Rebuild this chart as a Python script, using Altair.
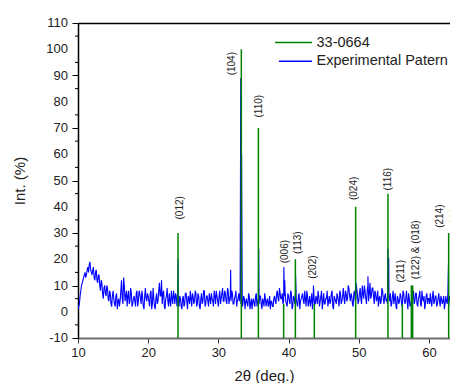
import altair as alt
import pandas as pd

FONT = "Liberation Sans"

# ---- reference card 33-0664 (stick pattern) ----
ref_two_theta = [24.25, 33.27, 35.70, 39.30, 40.97, 43.67, 49.56, 54.16, 56.21, 57.49, 57.68, 62.81, 63.90]
ref_intensity = [30, 100, 70, 3, 20, 3, 40, 45, 3, 10, 10, 30, 30]

# ---- Miller-index annotations ----
label_text = ["(012)", "(104)", "(110)", "(006)", "(113)", "(202)", "(024)", "(116)",
              "(211)", "(122) & (018)", "(214)", "(300)"]
label_two_theta = [24.47, 32.0, 35.78, 39.44, 41.3, 43.53, 49.27, 54.16, 56.07, 58.2, 61.52, 63.73]
label_intensity = [39.6, 94.5, 78.3, 22.9, 26.3, 17.0, 47.0, 50.5, 15.4, 23.6, 36.4, 36.4]

# ---- axis tick values ----
y_major_ticks = list(range(-10, 111, 10))
y_minor_ticks = list(range(-5, 106, 10))
x_major_ticks = [10, 20, 30, 40, 50, 60]

# ---- legend entries ----
series_names = ["33-0664", "Experimental Patern"]
series_colors = ["#008000", "#0000ff"]

# ---- experimental pattern: background read every 0.2 deg from 10.0 deg ----
exp_start = 10.0
exp_step = 0.2
exp_background = [
    1, 3, 8, 11, 13,   15, 14, 17, 18, 16,   14, 17, 12, 16, 11,   14, 8, 11, 5, 10,
    6, 9, 4, 7, 2,     8, 3, 6, 1, 5,        4, 12, 3, 10, 6,      2, 8, 4, 7, 3,
    6, 2, 8, 4, 7,     3, 6, 1, 9, 4,        6, 2, 8, 3, 5,        1, 7, 4, 11, 6,
    3, 8, 1, 6, 4,     7, 2, 5, 8, 3,        6, 4, 2, 5, 1,        6, 3, 7, 1, 5,
    8, 2, 6, 4, 7,     3, 6, 1, 7, 4,        8, 3, 6, 2, 5,        7, 4, 8, 3, 6,
    2, 8, 5, 9, 4,     7, 3, 8, 5, 4,        7, 3, 6, 2, 5,        4, 3, 2, 6, 1,
    5, 2, 6, 3, 1,     5, 2, 7, 4, 3,        6, 1, 4, 7, 2,        5, 3, 1, 4, 2,
    6, 3, 8, 4, 7,     5, 3, 6, 4, 2,        6, 3, 7, 2, 5,        8, 3, 6, 1, 5,
    7, 3, 5, 8, 2,     6, 4, 1, 7, 3,        5, 8, 2, 6, 1,        7, 3, 5, 2, 6,
    4, 8, 1, 5, 3,     6, 2, 7, 4, 9,        3, 7, 5, 9, 4,        6, 2, 8, 5, 7,
    4, 9, 3, 7, 10,    5, 8, 4, 11, 6,       9, 3, 7, 5, 2,        6, 4, 8, 3, 7,
    5, 8, 4, 2, 6,     3, 7, 1, 5, 4,        6, 2, 7, 3, 8,        1, 5, 3, 6, 8,
    4, 7, 2, 6, 3,     8, 4, 1, 6, 3,        5, 7, 2, 8, 4,        6, 3, 7, 2, 5,
    4, 1, 6, 3, 2,     6, 4, 2, 5, 8,        3, 6, 2, 7, 4,        5,
]
# ---- experimental pattern: background read every 0.2 deg from 10.1 deg ----
exp_start_mid = 10.1
exp_background_mid = [
    2, 6, 10, 12, 14,  13, 16, 15, 19, 15,   16, 13, 15, 12, 14,   10, 12, 7, 9, 7,
    10, 5, 8, 3, 6,    5, 2, 7, 4, 2,        8, 5, 13, 4, 8,       6, 3, 9, 2, 5,
    4, 7, 2, 8, 5,     8, 2, 6, 5, 7,        4, 7, 1, 9, 2,        5, 3, 8, 6, 12,
    7, 2, 5, 9, 2,     4, 8, 3, 6, 7,        2, 3, 6, 2, 5,        2, 7, 4, 6, 3,
    5, 7, 3, 8, 2,     7, 2, 5, 3, 8,        2, 6, 4, 7, 3,        5, 2, 6, 8, 4,
    6, 3, 7, 4, 8,     4, 9, 3, 6, 8,        3, 5, 8, 4, 7,        7, 5, 3, 5, 4,
    3, 7, 1, 5, 4,     3, 6, 2, 5, 6,        3, 5, 2, 5, 4,        2, 6, 4, 2, 5,
    4, 7, 5, 9, 5,     7, 4, 8, 3, 7,        4, 8, 1, 6, 3,        5, 2, 7, 4, 6,
    4, 8, 2, 6, 4,     2, 7, 5, 3, 6,        3, 6, 4, 8, 4,        3, 5, 8, 4, 3,
    7, 2, 6, 4, 7,     4, 8, 3, 6, 5,        8, 4, 10, 6, 7,       3, 7, 4, 9, 3,
    7, 5, 10, 5, 8,    3, 10, 7, 5, 9,       6, 8, 4, 8, 5,        3, 9, 5, 6, 4,
    3, 6, 7, 3, 8,     5, 2, 6, 3, 7,        3, 8, 4, 5, 4,        7, 2, 4, 5, 3,
    7, 3, 5, 8, 2,     5, 6, 3, 7, 5,        3, 4, 6, 3, 6,        2, 5, 4, 6, 3,
    6, 3, 4, 7, 5,     3, 7, 3, 6, 4,        5, 4, 6, 3, 6,
]
# ---- experimental pattern: diffraction peaks ----
peak_two_theta = [24.25, 31.75, 33.19, 33.31, 35.75, 39.33, 39.45, 41.0, 43.55, 49.61, 51.31,
                  54.15, 54.27, 57.63, 62.78]
peak_intensity = [20, 16, 89, 60, 24, 17, 12, 14, 10, 11, 13.5, 24, 20.5, 10, 18]

# ---- tables ----
exp_x = ([round(exp_start + exp_step * i, 2) for i in range(len(exp_background))]
         + [round(exp_start_mid + exp_step * i, 2) for i in range(len(exp_background_mid))]
         + peak_two_theta)
exp_y = list(exp_background) + list(exp_background_mid) + peak_intensity
exp_df = pd.DataFrame({"two_theta": exp_x, "intensity": exp_y})
exp_df = exp_df.sort_values("two_theta").reset_index(drop=True)

ref_df = pd.DataFrame({"two_theta": ref_two_theta, "intensity": ref_intensity})
lab_df = pd.DataFrame({"two_theta": label_two_theta, "intensity": label_intensity, "text": label_text})
minor_df = pd.DataFrame({"intensity": y_minor_ticks})
major_df = pd.DataFrame({"intensity": y_major_ticks, "text": [str(v) for v in y_major_ticks]})

xscale = alt.Scale(domain=[10, 63], nice=False, zero=False)
yscale = alt.Scale(domain=[-10, 110], nice=False, zero=False)

x_axis = alt.Axis(
    values=x_major_ticks, title="2θ (deg.)", grid=False,
    tickSize=5, tickColor="#333", domainColor="#6e6e6e", domainWidth=2,
    labelFontSize=13, labelColor="#222", labelPadding=3, labelFlush=False,
    titleFontSize=15, titleFontWeight="normal", titleColor="#222", titlePadding=9,
)
y_axis = alt.Axis(
    values=y_major_ticks, title="Int. (%)", grid=False, labels=False,
    tickSize=6, tickColor="#000", domainColor="#000", domainWidth=1.5,
    titleFontSize=15, titleFontWeight="normal", titleColor="#222", titlePadding=44,
)
top_axis = alt.Axis(orient="top", labels=False, ticks=False, title=None, grid=False,
                    domainColor="#000", domainWidth=1.5)

exp_line = alt.Chart(exp_df).mark_line(strokeWidth=1.1, clip=True, color=series_colors[1]).encode(
    x=alt.X("two_theta:Q", scale=xscale, axis=x_axis),
    y=alt.Y("intensity:Q", scale=yscale, axis=y_axis),
)

sticks = alt.Chart(ref_df).mark_rule(strokeWidth=1.5, clip=True, color=series_colors[0]).encode(
    x=alt.X("two_theta:Q", scale=xscale, axis=None),
    y=alt.Y("intensity:Q", scale=yscale),
    y2=alt.datum(-10),
)

labels = alt.Chart(lab_df).mark_text(angle=270, fontSize=10, font=FONT, color="#222",
                                     align="center", baseline="middle", clip=True).encode(
    x=alt.X("two_theta:Q", scale=xscale, axis=top_axis),
    y=alt.Y("intensity:Q", scale=yscale),
    text="text:N",
)

# y tick labels and minor ticks, placed through the y scale just left of the plot
y_labels = alt.Chart(major_df).mark_text(fontSize=13, font=FONT, color="#222",
                                         align="right", baseline="middle").encode(
    y=alt.Y("intensity:Q", scale=yscale),
    x=alt.value(-10),
    text="text:N",
)
minor = alt.Chart(minor_df).mark_rule(color="#000", strokeWidth=1).encode(
    y=alt.Y("intensity:Q", scale=yscale),
    x=alt.value(-3), x2=alt.value(0),
)

# legend (inside the plot, upper right)
leg_df = pd.DataFrame({"series": series_names})
leg_line_ref = alt.Chart(leg_df.iloc[[0]]).mark_rule(color=series_colors[0], strokeWidth=1.5).encode(
    x=alt.value(197), x2=alt.value(234), y=alt.value(19.6))
leg_line_exp = alt.Chart(leg_df.iloc[[1]]).mark_rule(color=series_colors[1], strokeWidth=1.5).encode(
    x=alt.value(201), x2=alt.value(234), y=alt.value(38.3))
leg_text_ref = alt.Chart(leg_df.iloc[[0]]).mark_text(fontSize=14.5, font=FONT, color="#222",
                                                     align="left", baseline="middle").encode(
    x=alt.value(238.5), y=alt.value(19.6), text="series:N")
leg_text_exp = alt.Chart(leg_df.iloc[[1]]).mark_text(fontSize=14.5, font=FONT, color="#222",
                                                     align="left", baseline="middle").encode(
    x=alt.value(238.5), y=alt.value(38.3), text="series:N")

chart = alt.layer(
    exp_line, sticks, labels, y_labels, minor,
    leg_line_ref, leg_line_exp, leg_text_ref, leg_text_exp,
).resolve_axis(x="independent").properties(
    width=372, height=315,
    padding={"left": 4, "top": 9, "right": 0, "bottom": 0},
).configure(font=FONT).configure_view(stroke=None)

chart.save("out.html", embed_options={"renderer": "svg", "actions": False})
